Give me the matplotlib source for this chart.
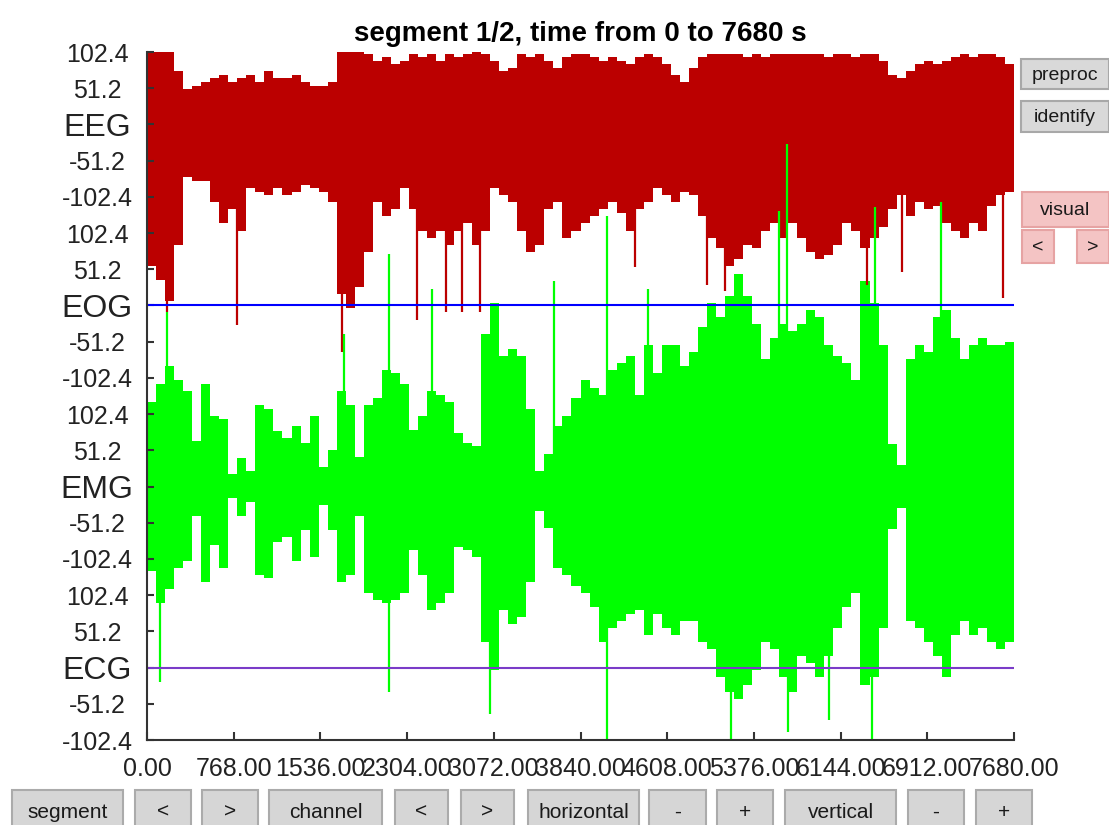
import numpy as np
import matplotlib
matplotlib.use("Agg")
import matplotlib.pyplot as plt
import matplotlib.transforms as mtrans
from matplotlib.patches import Rectangle

plt.rcParams['font.family'] = ['Liberation Sans', 'DejaVu Sans']

# channels, stacked one below the other
channels = ["EEG", "EOG", "EMG", "ECG"]
offsets = [0, -256, -512, -768]
tick_steps = [102.4, 51.2, 0, -51.2, -102.4]
t_end = 7680
bin_sec = 80  # envelope in 80 s columns

# EEG envelope (max / min per column), uV
eeg_hi = [130, 110, 130, 75, 50, 55, 60, 65, 70, 60, 65, 70, 60, 75, 65, 65, 70, 60, 55, 55, 60, 130, 130, 130,
          100, 90, 95, 85, 90, 100, 95, 100, 90, 100, 95, 100, 105, 100, 90, 75, 80, 100, 95, 100, 90, 80, 95, 100,
          100, 95, 90, 95, 90, 85, 95, 100, 95, 85, 70, 60, 80, 95, 100, 100, 100, 100, 95, 100, 95, 100, 100, 100,
          100, 100, 100, 95, 100, 100, 95, 100, 100, 90, 70, 65, 75, 85, 90, 85, 90, 95, 100, 95, 100, 100, 95, 85]
eeg_lo = [-200, -220, -250, -170, -75, -80, -80, -110, -140, -120, -150, -90, -95, -100, -90, -100, -95, -85, -90, -95, -110, -240, -260, -230,
          -180, -110, -130, -120, -90, -120, -150, -160, -150, -170, -150, -140, -170, -150, -90, -100, -110, -150, -180, -170, -120, -110, -160, -150,
          -140, -130, -120, -110, -125, -150, -120, -110, -90, -100, -110, -95, -100, -130, -160, -175, -200, -190, -170, -175, -150, -140, -160, -140,
          -160, -180, -190, -185, -170, -140, -150, -175, -160, -145, -120, -100, -130, -110, -120, -115, -140, -150, -160, -140, -150, -115, -100, -95]
# single long EEG deflections
eeg_spike_t = [174, 800, 1724, 2395, 2648, 2793, 2950, 4323, 4958, 5120, 6375, 6685, 7585]
eeg_spike_v = [-265, -284, -322, -277, -265, -265, -265, -202, -227, -236, -227, -208, -246]

# EMG envelope
emg_hi = [120, 145, 170, 150, 135, 65, 145, 100, 95, 18, 40, 22, 115, 110, 78, 68, 85, 62, 100, 28, 52, 135, 115, 42,
          115, 125, 165, 160, 145, 80, 100, 135, 130, 120, 75, 62, 58, 215, 260, 185, 195, 185, 110, 22, 46, 85, 100, 125,
          150, 140, 130, 165, 175, 185, 130, 200, 160, 200, 200, 170, 190, 225, 260, 240, 270, 300, 270, 230, 180, 210, 230, 220,
          230, 250, 240, 200, 185, 175, 150, 290, 260, 200, 60, 30, 180, 200, 190, 240, 250, 210, 180, 200, 210, 200, 200, 205]
emg_lo = [-120, -165, -145, -115, -105, -42, -135, -82, -115, -16, -42, -22, -125, -130, -78, -72, -105, -62, -100, -26, -62, -135, -125, -42,
          -150, -160, -165, -160, -150, -90, -125, -175, -165, -150, -85, -90, -100, -220, -260, -175, -195, -185, -135, -35, -58, -115, -125, -140,
          -150, -170, -220, -200, -190, -180, -175, -210, -180, -200, -210, -190, -190, -220, -230, -270, -290, -300, -280, -260, -220, -230, -270, -290,
          -240, -250, -270, -240, -200, -170, -150, -280, -270, -200, -60, -30, -190, -200, -220, -240, -270, -210, -190, -210, -200, -220, -230, -220]
emg_spike_t = [115, 174, 1742, 2144, 2144, 2522, 3038, 3605, 4072, 4072, 4441, 5170, 5601, 5666, 5680, 6044, 6420, 6449, 7033]
emg_spike_v = [-277, 247, 215, 329, -290, 279, -322, 291, 383, -370, 279, -370, 390, 484, -347, -330, -360, 395, 402]

bottom_buttons = ["segment", "<", ">", "channel", "<", ">", "horizontal", "-", "+", "vertical", "-", "+"]
side_buttons = ["preproc", "identify", "visual", "<", ">"]

W, H = 1109, 825
fig = plt.figure(figsize=(W / 100, H / 100), dpi=100)

# button panel (pixel coordinates)
ui = fig.add_axes([0, 0, 1, 1])
ui.set_xlim(0, W)
ui.set_ylim(H, 0)
ui.axis('off')

def button(x, y, w, h, label, face, edge, size):
    ui.add_patch(Rectangle((x, y), w, h, facecolor=face, edgecolor=edge, lw=1.5))
    ui.text(x + w / 2, y + h / 2 + 1, label, ha='center', va='center', fontsize=size, color='#1a1a1a')

bx = [12, 135, 202, 269, 395, 461, 528, 649, 717, 785, 908, 976]
bw = [111, 56, 56, 113, 53, 53, 111, 57, 56, 111, 56, 56]
for x, w, lab in zip(bx, bw, bottom_buttons):
    button(x, 790, w, 42, lab, '#d6d6d6', '#ababab', 15)

side_box = [(1021, 59, 88, 30), (1021, 101, 88, 31), (1022, 192, 87, 35), (1022, 230, 32, 33), (1077, 230, 32, 33)]
side_col = ['gray', 'gray', 'pink', 'pink', 'pink']
for (x, y, w, h), lab, c in zip(side_box, side_buttons, side_col):
    if c == 'gray':
        button(x, y, w, h, lab, '#d9d9d9', '#a8a8a8', 14)
    else:
        button(x, y, w, h, lab, '#f4c4c4', '#e6a3a3', 14)

# signal axes
ax = fig.add_axes([147 / W, 1 - 740 / H, (1014 - 147) / W, (740 - 52) / H])
edges = np.arange(0, t_end + bin_sec, bin_sec)

def env(v):
    return np.append(v, v[-1])

red = '#bb0000'
green = '#00ff00'
ax.fill_between(edges, offsets[0] + env(eeg_lo), offsets[0] + env(eeg_hi), step='post', color=red, lw=0)
ax.vlines(eeg_spike_t, offsets[0], offsets[0] + np.array(eeg_spike_v), color=red, lw=1.6)
ax.fill_between(edges, offsets[2] + env(emg_lo), offsets[2] + env(emg_hi), step='post', color=green, lw=0)
ax.vlines(emg_spike_t, offsets[2], offsets[2] + np.array(emg_spike_v), color=green, lw=1.6)
ax.axhline(offsets[1], color='#0000ff', lw=1.5)
ax.axhline(offsets[3], color='#7a3cc8', lw=1.5)

ax.set_xlim(0, t_end)
ax.set_ylim(offsets[3] - 102.4, 102.4)

xt = np.arange(0, t_end + 1, 768)
ax.set_xticks(xt)
ax.set_xticklabels([f"{v:.2f}" for v in xt], fontsize=18, color='#222222')
# first label sits a bit to the right of its tick in the original
first = ax.get_xticklabels()[0]
first.set_transform(first.get_transform() + mtrans.ScaledTranslation(12 / 100, 0, fig.dpi_scale_trans))

ypos, ylab = [], []
for name, off in zip(channels, offsets):
    for s in tick_steps:
        ypos.append(off + s)
        ylab.append(name if s == 0 else f"{s:.1f}")
ax.set_yticks(ypos)
ax.set_yticklabels(ylab)
for lbl in ax.get_yticklabels():
    lbl.set_ha('center')
    lbl.set_fontsize(23 if lbl.get_text() in channels else 18)
    lbl.set_color('#222222')

ax.tick_params(axis='y', direction='in', length=5, width=1.5, color='#333333', pad=36)
ax.tick_params(axis='x', direction='in', length=6, width=1.5, color='#333333', pad=12)
for s in ['top', 'right']:
    ax.spines[s].set_visible(False)
for s in ['left', 'bottom']:
    ax.spines[s].set_color('#333333')
    ax.spines[s].set_linewidth(1.5)

ax.set_title("segment 1/2, time from 0 to 7680 s", fontsize=20, fontweight='bold', pad=8)

fig.savefig("out.png", dpi=100)
